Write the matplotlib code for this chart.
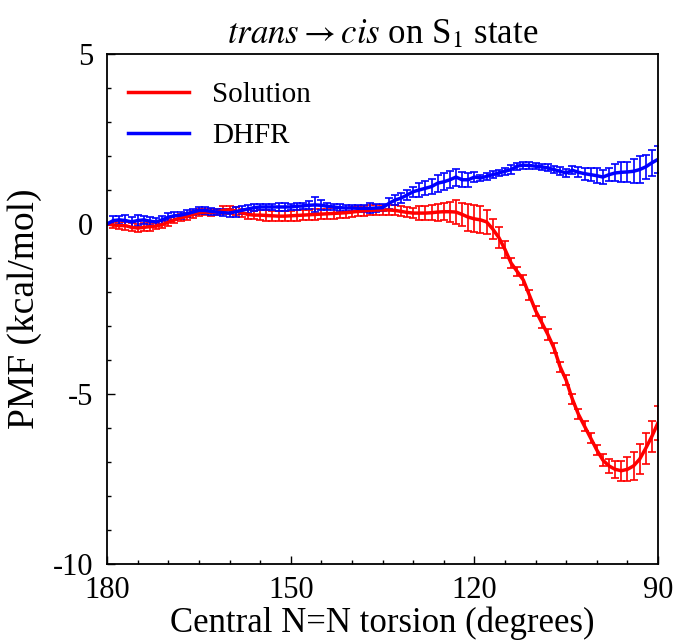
import numpy as np
import matplotlib.pyplot as plt
from matplotlib.lines import Line2D

plt.rcParams['font.family'] = ['Liberation Serif', 'DejaVu Serif']
plt.rcParams['mathtext.fontset'] = 'stix'
plt.rcParams['axes.unicode_minus'] = False

torsion = np.arange(180, 89, -1)

solution = [0.0, -0.03, -0.05, -0.05, -0.1, -0.12, -0.1, -0.08, -0.06, -0.02,
            0.05, 0.12, 0.18, 0.22, 0.28, 0.33, 0.35, 0.34, 0.35, 0.4,
            0.42, 0.38, 0.33, 0.28, 0.26, 0.26, 0.25, 0.24, 0.23, 0.23,
            0.24, 0.25, 0.26, 0.27, 0.28, 0.29, 0.3, 0.31, 0.32, 0.33,
            0.35, 0.37, 0.39, 0.4, 0.41, 0.41, 0.41, 0.4, 0.37, 0.34,
            0.32, 0.32, 0.32, 0.33, 0.35, 0.36, 0.36, 0.35, 0.28, 0.2,
            0.15, 0.12, 0.06, -0.15, -0.4, -0.75, -1.15, -1.4, -1.65, -2.1,
            -2.55, -2.9, -3.25, -3.65, -4.2, -4.6, -5.15, -5.6, -5.95, -6.3,
            -6.65, -6.95, -7.12, -7.22, -7.26, -7.22, -7.12, -6.92, -6.6, -6.25,
            -5.85]
solution_err = [0.0, 0.1, 0.1, 0.12, 0.12, 0.12, 0.12, 0.12, 0.1, 0.1,
                0.1, 0.1, 0.1, 0.1, 0.1, 0.1, 0.1, 0.1, 0.1, 0.12,
                0.12, 0.12, 0.12, 0.12, 0.12, 0.15, 0.15, 0.15, 0.15, 0.15,
                0.15, 0.15, 0.15, 0.15, 0.15, 0.15, 0.15, 0.15, 0.15, 0.15,
                0.15, 0.15, 0.15, 0.15, 0.15, 0.15, 0.15, 0.15, 0.15, 0.15,
                0.15, 0.2, 0.2, 0.22, 0.25, 0.25, 0.3, 0.35, 0.35, 0.4,
                0.4, 0.4, 0.35, 0.3, 0.3, 0.25, 0.15, 0.12, 0.15, 0.15,
                0.15, 0.15, 0.15, 0.15, 0.15, 0.15, 0.15, 0.15, 0.15, 0.15,
                0.15, 0.18, 0.2, 0.25, 0.3, 0.35, 0.4, 0.45, 0.45, 0.45,
                0.5]

dhfr = [0.0, 0.1, 0.12, 0.1, 0.06, 0.1, 0.12, 0.08, 0.06, 0.12,
        0.2, 0.24, 0.26, 0.3, 0.35, 0.4, 0.4, 0.37, 0.35, 0.33,
        0.32, 0.36, 0.4, 0.44, 0.48, 0.5, 0.5, 0.5, 0.5, 0.5,
        0.5, 0.52, 0.53, 0.55, 0.56, 0.55, 0.52, 0.5, 0.48, 0.47,
        0.47, 0.46, 0.46, 0.46, 0.47, 0.48, 0.6, 0.7, 0.76, 0.85,
        0.95, 1.0, 1.05, 1.1, 1.2, 1.24, 1.3, 1.38, 1.3, 1.3,
        1.38, 1.35, 1.4, 1.45, 1.5, 1.55, 1.6, 1.7, 1.73, 1.72,
        1.7, 1.68, 1.65, 1.6, 1.55, 1.5, 1.58, 1.52, 1.48, 1.45,
        1.42, 1.38, 1.45, 1.5, 1.52, 1.53, 1.55, 1.6, 1.68, 1.8,
        1.9]
dhfr_err = [0.0, 0.12, 0.12, 0.15, 0.15, 0.15, 0.12, 0.12, 0.12, 0.12,
            0.12, 0.12, 0.1, 0.1, 0.1, 0.1, 0.1, 0.1, 0.1, 0.1,
            0.12, 0.15, 0.12, 0.12, 0.1, 0.1, 0.1, 0.1, 0.12, 0.12,
            0.1, 0.1, 0.1, 0.12, 0.22, 0.15, 0.1, 0.1, 0.1, 0.1,
            0.1, 0.1, 0.1, 0.15, 0.12, 0.1, 0.15, 0.15, 0.15, 0.15,
            0.15, 0.2, 0.2, 0.22, 0.25, 0.25, 0.25, 0.25, 0.22, 0.2,
            0.15, 0.1, 0.1, 0.1, 0.1, 0.1, 0.12, 0.1, 0.1, 0.1,
            0.08, 0.08, 0.1, 0.1, 0.12, 0.12, 0.12, 0.15, 0.18, 0.2,
            0.22, 0.2, 0.2, 0.25, 0.3, 0.3, 0.35, 0.4, 0.35, 0.38,
            0.4]

fig = plt.figure(figsize=(6.78, 6.4), dpi=100)
ax = fig.add_axes([0.158, 0.119, 0.8125, 0.7966])

ax.errorbar(torsion, solution, yerr=solution_err, color='red', lw=2.5,
            elinewidth=1.2, capsize=3, capthick=1.2)
ax.errorbar(torsion, dhfr, yerr=dhfr_err, color='blue', lw=2.5,
            elinewidth=1.2, capsize=3, capthick=1.2)

ax.set_xlim(180, 90)
ax.set_ylim(-10, 5)
ax.set_xticks([180, 150, 120, 90])
ax.set_xticks(np.arange(90, 181, 5), minor=True)
ax.set_yticks([-10, -5, 0, 5])
ax.set_yticks(np.arange(-10, 6, 1), minor=True)
ax.tick_params(which='both', direction='in', labelsize=22, top=False, right=False)
ax.tick_params(which='major', length=6, width=1)
ax.tick_params(which='minor', length=3, width=1)
ax.tick_params(axis='x', pad=9)
ax.tick_params(axis='y', pad=10)
for s in ax.spines.values():
    s.set_linewidth(1.3)

ax.set_xlabel('Central N=N torsion (degrees)', fontsize=25, labelpad=1)
ax.set_ylabel('PMF (kcal/mol)', fontsize=27, labelpad=8)
ax.set_title(r'$\mathit{trans}\rightarrow\mathit{cis}$ on S$_1$ state', fontsize=25, pad=8)

handles = [Line2D([], [], color='red', lw=2.5), Line2D([], [], color='blue', lw=2.5)]
ax.legend(handles, ['Solution', 'DHFR'], loc='upper left', bbox_to_anchor=(0.0, 0.985),
          frameon=False, fontsize=21, handlelength=2.1, handletextpad=0.8,
          borderaxespad=0.3, labelspacing=0.5)

fig.savefig('out.png', dpi=100)
